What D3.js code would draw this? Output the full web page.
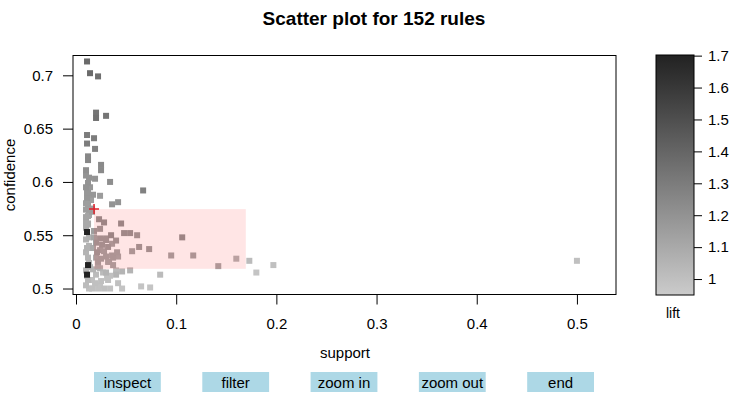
<!DOCTYPE html>
<html>
<head>
<meta charset="utf-8">
<script src="https://cdn.jsdelivr.net/npm/d3@7"></script>
<style>
  body { margin: 0; background: #fff; }
  text { font-family: "Liberation Sans", Arial, sans-serif; }
</style>
</head>
<body>
<div id="chart"></div>
<script>
// rules: support / confidence / lift
const support = [
  0.011, 0.014, 0.022, 0.020, 0.020, 0.030, 0.011, 0.018, 0.011, 0.019,
  0.012, 0.025, 0.025, 0.013, 0.019, 0.012, 0.034, 0.067, 0.011, 0.017,
  0.011, 0.024, 0.036, 0.042, 0.012, 0.010, 0.016, 0.014, 0.010, 0.015,
  0.010, 0.012, 0.016, 0.010, 0.012, 0.010, 0.013,
  0.023, 0.028, 0.045, 0.011, 0.018, 0.035, 0.048, 0.054, 0.061, 0.106,
  0.010, 0.012, 0.010, 0.013, 0.010, 0.012, 0.010, 0.012, 0.010, 0.013,
  0.011, 0.013, 0.011, 0.014, 0.013, 0.010,
  0.020, 0.026, 0.032, 0.021, 0.028, 0.036, 0.063, 0.073, 0.056, 0.095,
  0.117, 0.030, 0.037, 0.012, 0.022, 0.037, 0.142, 0.160, 0.173, 0.180,
  0.011, 0.046, 0.054, 0.084, 0.042, 0.046, 0.065, 0.074, 0.197, 0.500,
  0.016, 0.022, 0.028, 0.034, 0.019, 0.025, 0.031, 0.020, 0.027, 0.034,
  0.017, 0.024,
  0.024, 0.030, 0.040, 0.025, 0.033, 0.041, 0.018, 0.017, 0.022, 0.030, 0.040,
  0.012, 0.010, 0.012, 0.010, 0.024, 0.030, 0.036, 0.024, 0.042, 0.032,
  0.020, 0.016, 0.024, 0.032, 0.040
];
const confidence = [
  0.713, 0.702, 0.699, 0.665, 0.660, 0.662, 0.644, 0.641, 0.636, 0.631,
  0.624, 0.616, 0.611, 0.604, 0.603, 0.599, 0.600, 0.592, 0.590, 0.588,
  0.585, 0.587, 0.579, 0.581, 0.579, 0.574, 0.572, 0.595, 0.606, 0.583,
  0.567, 0.561, 0.575, 0.595, 0.590, 0.580, 0.569,
  0.565, 0.562, 0.561, 0.553, 0.554, 0.550, 0.552, 0.552, 0.550, 0.548,
  0.566, 0.560, 0.546, 0.540, 0.534, 0.529, 0.517, 0.508, 0.503, 0.548,
  0.538, 0.524, 0.512, 0.520, 0.500, 0.557,
  0.543, 0.541, 0.539, 0.534, 0.535, 0.531, 0.539, 0.537, 0.535, 0.531,
  0.531, 0.530, 0.529, 0.522, 0.525, 0.522, 0.521, 0.528, 0.526, 0.515,
  0.513, 0.516, 0.517, 0.513, 0.505, 0.500, 0.502, 0.501, 0.522, 0.526,
  0.500, 0.500, 0.500, 0.500, 0.505, 0.507, 0.510, 0.513, 0.515, 0.512,
  0.518, 0.519,
  0.556, 0.547, 0.545, 0.528, 0.525, 0.534, 0.548, 0.538, 0.520, 0.515, 0.513,
  0.6205, 0.611, 0.568, 0.562, 0.547, 0.5455, 0.542, 0.536, 0.530, 0.525,
  0.529, 0.508, 0.503, 0.508, 0.517
];
const lift = [
  1.38, 1.38, 1.36, 1.33, 1.35, 1.33, 1.30, 1.30, 1.30, 1.28,
  1.25, 1.24, 1.24, 1.20, 1.20, 1.20, 1.22, 1.28, 1.18, 1.18,
  1.18, 1.16, 1.20, 1.20, 1.15, 1.15, 1.15, 1.18, 1.20, 1.15,
  1.12, 1.10, 1.15, 1.20, 1.18, 1.15, 1.12,
  1.20, 1.20, 1.20, 1.70, 1.15, 1.20, 1.18, 1.18, 1.15, 1.20,
  1.08, 1.08, 1.06, 1.06, 1.05, 1.05, 1.04, 1.03, 1.02, 1.07,
  1.06, 1.05, 1.03, 1.04, 1.00, 1.10,
  1.15, 1.15, 1.15, 1.15, 1.12, 1.12, 1.15, 1.15, 1.12, 1.12,
  1.12, 1.12, 1.12, 1.70, 1.12, 1.10, 1.10, 1.05, 1.02, 0.98,
  1.70, 1.05, 1.05, 1.02, 1.00, 0.98, 0.98, 0.98, 1.00, 1.00,
  1.00, 0.99, 1.00, 0.99, 1.00, 1.00, 1.00, 1.02, 1.02, 1.00,
  1.05, 1.05,
  1.15, 1.15, 1.15, 1.12, 1.10, 1.12, 1.12, 1.10, 1.08, 1.05, 1.05,
  1.25, 1.22, 1.12, 1.10, 1.15, 1.15, 1.12, 1.12, 1.10, 1.10,
  1.10, 1.00, 0.99, 1.00, 1.02
];
const xTicks = [0, 0.1, 0.2, 0.3, 0.4, 0.5];
const yTicks = [0.5, 0.55, 0.6, 0.65, 0.7];
const liftTicks = [1, 1.1, 1.2, 1.3, 1.4, 1.5, 1.6, 1.7];
const buttons = ["inspect", "filter", "zoom in", "zoom out", "end"];
// selection made with "zoom in": first corner and opposite corner
const selection = { s0: 0.018, c0: 0.5745, s1: 0.1695, c1: 0.5185 };

const width = 744, height = 399;
const box = { left: 73, right: 616, top: 55.5, bottom: 294.5 };

const svg = d3.select("#chart").append("svg")
  .attr("width", width).attr("height", height)
  .attr("viewBox", [0, 0, width, height]);

const data = support.map((s, i) => ({ support: s, confidence: confidence[i], lift: lift[i] }));

const x = d3.scaleLinear().domain([-0.003, 0.539]).range([box.left, box.right]);
const y = d3.scaleLinear().domain([0.4944, 0.7186]).range([box.bottom, box.top]);
const color = d3.scaleLinear().domain([0.95, 1.70]).range(["#cbcbcb", "#222222"]);

// title
svg.append("text")
  .attr("x", 374).attr("y", 25)
  .attr("text-anchor", "middle")
  .style("font-size", "19px").style("font-weight", "bold")
  .text("Scatter plot for 152 rules");

// points (sorted so darker lift is on top)
const sq = 6;
svg.append("g").selectAll("rect")
  .data(data.slice().sort((a, b) => a.lift - b.lift))
  .join("rect")
  .attr("x", d => x(d.support) - sq / 2)
  .attr("y", d => y(d.confidence) - sq / 2)
  .attr("width", sq).attr("height", sq)
  .attr("fill", d => color(d.lift));

// selection rectangle + marker
svg.append("rect")
  .attr("x", x(selection.s0)).attr("y", y(selection.c0))
  .attr("width", x(selection.s1) - x(selection.s0))
  .attr("height", y(selection.c1) - y(selection.c0))
  .attr("fill", "red").attr("fill-opacity", 0.1);

const cx = x(selection.s0), cy = y(selection.c0);
svg.append("path")
  .attr("d", `M${cx - 5},${cy}H${cx + 5}M${cx},${cy - 5}V${cy + 5}`)
  .attr("stroke", "#e0202a").attr("stroke-width", 1.5);

// box
svg.append("rect")
  .attr("x", box.left).attr("y", box.top)
  .attr("width", box.right - box.left).attr("height", box.bottom - box.top)
  .attr("fill", "none").attr("stroke", "black");

// axes
const xAxis = svg.append("g")
  .attr("transform", `translate(0,${box.bottom})`)
  .call(d3.axisBottom(x).tickValues(xTicks).tickFormat(d3.format("")).tickSize(10).tickPadding(14));
const yAxis = svg.append("g")
  .attr("transform", `translate(${box.left},0)`)
  .call(d3.axisLeft(y).tickValues(yTicks).tickFormat(d3.format("")).tickSize(10).tickPadding(10));
[xAxis, yAxis].forEach(g => {
  g.select(".domain").remove();
  g.selectAll("text").style("font-size", "15px").style("font-family", "Liberation Sans, Arial, sans-serif");
  g.selectAll("line").attr("stroke", "black");
});

svg.append("text")
  .attr("x", 345).attr("y", 358)
  .attr("text-anchor", "middle").style("font-size", "15px")
  .text("support");
svg.append("text")
  .attr("transform", "translate(15,175) rotate(-90)")
  .attr("text-anchor", "middle").style("font-size", "15px")
  .text("confidence");

// colour key
const bar = { left: 656, right: 694, top: 55, bottom: 295 };
const l = d3.scaleLinear().domain([0.95, 1.702]).range([bar.bottom, bar.top]);
const grad = svg.append("defs").append("linearGradient")
  .attr("id", "liftgrad").attr("x1", 0).attr("y1", 1).attr("x2", 0).attr("y2", 0);
grad.selectAll("stop")
  .data(d3.range(0, 1.0001, 0.1))
  .join("stop")
  .attr("offset", d => d)
  .attr("stop-color", d => color(l.invert(bar.bottom - d * (bar.bottom - bar.top))));
svg.append("rect")
  .attr("x", bar.left).attr("y", bar.top)
  .attr("width", bar.right - bar.left).attr("height", bar.bottom - bar.top)
  .attr("fill", "url(#liftgrad)").attr("stroke", "black");
const lAxis = svg.append("g")
  .attr("transform", `translate(${bar.right},0)`)
  .call(d3.axisRight(l).tickValues(liftTicks).tickFormat(d3.format("")).tickSize(8).tickPadding(6));
lAxis.select(".domain").remove();
lAxis.selectAll("text").style("font-size", "15px").style("font-family", "Liberation Sans, Arial, sans-serif");
svg.append("text")
  .attr("x", 673).attr("y", 318)
  .attr("text-anchor", "middle").style("font-size", "14px")
  .text("lift");

// buttons
const bx = d3.scaleBand().domain(buttons).range([94, 594]).paddingInner(0.383).paddingOuter(0);
const bg = svg.append("g").selectAll("g")
  .data(buttons)
  .join("g")
  .attr("transform", d => `translate(${bx(d)},372)`);
bg.append("rect")
  .attr("width", bx.bandwidth()).attr("height", 20)
  .attr("fill", "#add8e6");
bg.append("text")
  .attr("x", bx.bandwidth() / 2).attr("y", 15.5)
  .attr("text-anchor", "middle").style("font-size", "15px")
  .text(d => d);
</script>
</body>
</html>
